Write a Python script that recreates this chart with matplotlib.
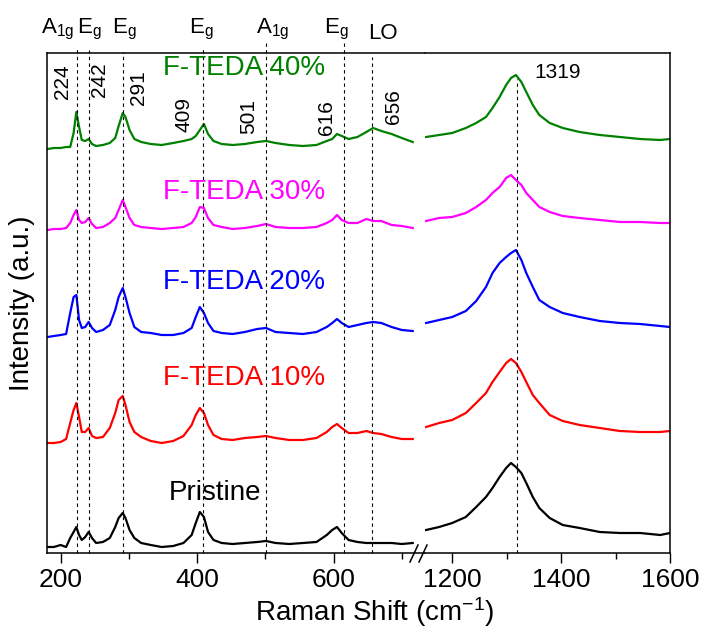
import numpy as np
import matplotlib.pyplot as plt
from matplotlib.lines import Line2D

plt.rcParams['font.family'] = ['Liberation Sans', 'DejaVu Sans']
plt.rcParams['mathtext.default'] = 'regular'

# Raman shift grids (cm-1) for the low- and high-wavenumber windows
shift_low = [181, 190, 200, 208, 214, 219, 223, 227, 231, 236, 241, 246, 252, 262, 272,
             280, 285, 291, 295, 301, 308, 318, 332, 348, 365, 380, 392, 398, 404, 410,
             416, 424, 436, 452, 470, 488, 501, 515, 535, 555, 575, 590, 598, 605, 612,
             622, 635, 648, 658, 670, 685, 700, 716]
shift_high = [1152, 1176, 1200, 1225, 1244, 1262, 1274, 1287, 1299, 1308, 1317, 1327,
              1336, 1348, 1360, 1379, 1403, 1434, 1471, 1508, 1545, 1582, 1600]

# stacked intensities (a.u.), bottom to top
pristine_low = [6, 6, 8, 6, 15, 21, 26, 18, 13, 16, 21, 15, 10, 11, 15,
                26, 35, 40, 35, 23, 15, 10, 8, 6, 7, 10, 18, 30, 41, 36,
                21, 13, 10, 9, 10, 11, 12, 10, 9, 10, 11, 18, 23, 26, 20,
                13, 11, 10, 10, 10, 10, 9, 10]
pristine_high = [23, 26, 30, 36, 46, 56, 65, 76, 85, 90, 86, 80,
                 70, 56, 45, 35, 28, 25, 21, 20, 20, 18, 20]

teda10_low = [110, 110, 111, 114, 130, 143, 150, 136, 121, 121, 125, 117, 115, 116, 125,
              140, 153, 157, 148, 131, 121, 116, 112, 110, 112, 117, 128, 138, 145, 140,
              128, 118, 114, 113, 115, 116, 117, 115, 113, 113, 115, 121, 126, 129, 125,
              120, 120, 122, 120, 119, 116, 114, 114]
teda10_high = [126, 130, 133, 140, 150, 160, 171, 181, 190, 194, 190, 181,
               171, 158, 150, 138, 132, 128, 125, 122, 121, 121, 122]

teda20_low = [216, 217, 218, 219, 240, 256, 258, 233, 225, 226, 231, 225, 221, 223, 228,
              243, 256, 265, 256, 240, 226, 221, 220, 218, 218, 220, 225, 236, 246, 240,
              230, 222, 220, 219, 221, 224, 225, 221, 220, 219, 221, 226, 230, 234, 230,
              226, 228, 230, 231, 230, 226, 223, 222]
teda20_high = [230, 233, 236, 242, 252, 266, 280, 290, 296, 300, 303, 293,
               280, 266, 253, 246, 240, 236, 232, 230, 229, 227, 226]

teda30_low = [323, 324, 324, 325, 330, 338, 343, 333, 330, 331, 335, 329, 325, 326, 330,
              335, 343, 353, 346, 335, 328, 326, 325, 324, 325, 326, 330, 336, 346, 345,
              335, 328, 326, 324, 325, 327, 329, 326, 325, 325, 326, 330, 333, 338, 333,
              330, 330, 334, 332, 332, 328, 327, 325]
teda30_high = [332, 335, 336, 340, 346, 353, 360, 366, 375, 378, 373, 368,
               360, 353, 346, 341, 337, 335, 333, 331, 331, 330, 330]

teda40_low = [404, 405, 405, 406, 406, 420, 441, 426, 413, 412, 414, 409, 407, 408, 410,
              415, 427, 440, 436, 423, 414, 411, 409, 408, 410, 412, 414, 417, 423, 429,
              419, 412, 409, 408, 409, 411, 412, 410, 408, 407, 408, 412, 414, 419, 417,
              414, 416, 421, 425, 422, 419, 415, 411]
teda40_high = [416, 418, 420, 425, 430, 436, 445, 456, 468, 475, 478, 471,
               461, 448, 438, 430, 425, 421, 418, 416, 414, 413, 414]

samples = ['Pristine', 'F-TEDA 10%', 'F-TEDA 20%', 'F-TEDA 30%', 'F-TEDA 40%']
colors = ['black', '#ff0000', '#0000ff', '#ff00ff', '#008000']
lows = [pristine_low, teda10_low, teda20_low, teda30_low, teda40_low]
highs = [pristine_high, teda10_high, teda20_high, teda30_high, teda40_high]

# mode positions and assignments
peak_pos = [224, 242, 291, 409, 501, 616, 656]
peak_top = [506, 503, 501, 506, 510, 510, 496]
modes = [r'A$_{1g}$', r'E$_g$', r'E$_g$', r'E$_g$', r'A$_{1g}$', r'E$_g$', 'LO']
d_band = 1319

fig = plt.figure(figsize=(7.04, 6.33), dpi=100)
W, H = 704.0, 633.0
ax1 = fig.add_axes([47 / W, 80 / H, 378 / W, 500 / H])
ax2 = fig.add_axes([425 / W, 80 / H, 245 / W, 500 / H])

for lo, hi, c in zip(lows, highs, colors):
    ax1.plot(shift_low, lo, color=c, lw=1.6)
    ax2.plot(shift_high, hi, color=c, lw=1.6)

ax1.set_xlim(180, 734)
ax2.set_xlim(1150, 1600)
for ax in (ax1, ax2):
    ax.set_ylim(0, 500)
    ax.set_yticks([])
    ax.tick_params(axis='x', which='major', direction='out', length=7, width=1,
                   labelsize=19, pad=4, top=False)
    ax.tick_params(axis='x', which='minor', direction='out', length=4, width=1, top=False)
    for s in ax.spines.values():
        s.set_linewidth(1.1)
ax1.spines['right'].set_visible(False)
ax2.spines['left'].set_visible(False)
ax1.set_xticks([200, 400, 600])
ax1.set_xticks([300, 500, 700], minor=True)
ax2.set_xticks([1200, 1400, 1600])
ax2.set_xticks([1300, 1500], minor=True)

# dashed guides at the phonon modes
for p, t in zip(peak_pos, peak_top):
    ax1.plot([p, p], [0, t], color='black', lw=0.8, ls=(0, (3, 3)), clip_on=False)
ax2.plot([d_band, d_band], [0, 474], color='black', lw=0.8, ls=(0, (3, 3)))

# mode labels above the frame
mode_x = [195, 242.4, 293.6, 406, 510, 603.5, 672]
for m, mx in zip(modes, mode_x):
    yb = 514 if m == 'LO' else 520
    ax1.text(mx, yb, m, fontsize=16, ha='center', va='baseline', clip_on=False)

# peak positions written vertically
num_xy = [(203, 471.5), (257, 473), (314, 465), (381, 438), (476, 437), (590, 435), (688, 446)]
for p, (nx, ny) in zip(peak_pos, num_xy):
    ax1.text(nx, ny, str(p), fontsize=15, rotation=90, ha='center', va='center')
ax2.text(1394, 481, str(d_band), fontsize=15, ha='center', va='center')

# sample names
name_xy = [(426, 60), (469, 175), (469, 271), (469, 361), (469, 485)]
for name, c, (tx, ty) in zip(samples, colors, name_xy):
    ax1.text(tx, ty, name, fontsize=20, color=c, ha='center', va='center')

# axis break marks
for x0 in (410, 419):
    fig.add_artist(Line2D([x0 / W, (x0 + 8) / W], [1 - 562 / H, 1 - 545 / H],
                          transform=fig.transFigure, color='black', lw=1.1))

fig.text(375 / W, 1 - 612 / H, r'Raman Shift (cm$^{-1}$)', fontsize=20,
         ha='center', va='center')
fig.text(22 / W, 1 - 303 / H, 'Intensity (a.u.)', fontsize=20, rotation=90,
         ha='center', va='center')

fig.savefig('out.png', dpi=100)
